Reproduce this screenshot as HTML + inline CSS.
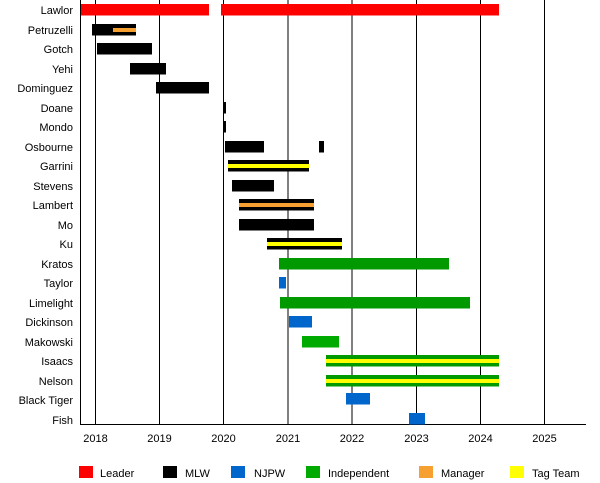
<!DOCTYPE html>
<html><head><style>body{margin:0;background:#fff}svg{display:block;font-family:"Liberation Sans",sans-serif;font-size:11px}</style></head><body>
<svg width="600" height="483" viewBox="0 0 600 483" xmlns="http://www.w3.org/2000/svg">
<g stroke="#000" stroke-width="1">
<line x1="95.5" y1="0" x2="95.5" y2="424"/><line x1="159.5" y1="0" x2="159.5" y2="424"/><line x1="223.5" y1="0" x2="223.5" y2="424"/><line x1="288" y1="0" x2="288" y2="424"/><line x1="352" y1="0" x2="352" y2="424"/><line x1="416.5" y1="0" x2="416.5" y2="424"/><line x1="480.5" y1="0" x2="480.5" y2="424"/><line x1="544.5" y1="0" x2="544.5" y2="424"/>
<line x1="80.5" y1="0" x2="80.5" y2="424"/><line x1="80" y1="424.5" x2="586" y2="424.5"/>
</g>
<g text-anchor="end">
<text x="73" y="14">Lawlor</text><text x="73" y="34">Petruzelli</text><text x="73" y="53">Gotch</text><text x="73" y="73">Yehi</text><text x="73" y="92">Dominguez</text><text x="73" y="112">Doane</text><text x="73" y="131">Mondo</text><text x="73" y="151">Osbourne</text><text x="73" y="170">Garrini</text><text x="73" y="190">Stevens</text><text x="73" y="209">Lambert</text><text x="73" y="229">Mo</text><text x="73" y="248">Ku</text><text x="73" y="268">Kratos</text><text x="73" y="287">Taylor</text><text x="73" y="307">Limelight</text><text x="73" y="326">Dickinson</text><text x="73" y="346">Makowski</text><text x="73" y="365">Isaacs</text><text x="73" y="385">Nelson</text><text x="73" y="404">Black Tiger</text><text x="73" y="424">Fish</text>
</g>
<g text-anchor="middle">
<text x="95.5" y="442">2018</text><text x="159.5" y="442">2019</text><text x="223.5" y="442">2020</text><text x="288" y="442">2021</text><text x="352" y="442">2022</text><text x="416.5" y="442">2023</text><text x="480.5" y="442">2024</text><text x="544.5" y="442">2025</text>
</g>
<g>
<rect x="81" y="4" width="128" height="11.5" fill="#f00"/><rect x="221" y="4" width="278" height="11.5" fill="#f00"/>
<rect x="92" y="24" width="44" height="11.5" fill="#000"/><rect x="113" y="28" width="23" height="4" fill="#f5a030"/>
<rect x="97" y="43" width="55" height="11.5" fill="#000"/>
<rect x="130" y="63" width="36" height="11.5" fill="#000"/>
<rect x="156" y="82" width="53" height="11.5" fill="#000"/>
<rect x="223" y="102" width="3" height="11.5" fill="#000"/>
<rect x="223" y="121" width="3" height="11.5" fill="#000"/>
<rect x="225" y="141" width="39" height="11.5" fill="#000"/><rect x="319" y="141" width="5" height="11.5" fill="#000"/>
<rect x="228" y="160" width="81" height="11.5" fill="#000"/><rect x="228" y="164" width="81" height="4" fill="#ff0"/>
<rect x="232" y="180" width="42" height="11.5" fill="#000"/>
<rect x="239" y="199" width="75" height="11.5" fill="#000"/><rect x="239" y="203" width="75" height="4" fill="#f5a030"/>
<rect x="239" y="219" width="75" height="11.5" fill="#000"/>
<rect x="267" y="238" width="75" height="11.5" fill="#000"/><rect x="267" y="242" width="75" height="4" fill="#ff0"/>
<rect x="279" y="258" width="170" height="11.5" fill="#009900"/>
<rect x="279" y="277" width="7" height="11.5" fill="#0066cc"/>
<rect x="280" y="297" width="190" height="11.5" fill="#009900"/>
<rect x="289" y="316" width="23" height="11.5" fill="#0066cc"/>
<rect x="302" y="336" width="37" height="11.5" fill="#00aa00"/>
<rect x="326" y="355" width="173" height="11.5" fill="#009900"/><rect x="326" y="359" width="173" height="4" fill="#ff0"/>
<rect x="326" y="375" width="173" height="11.5" fill="#009900"/><rect x="326" y="379" width="173" height="4" fill="#ff0"/>
<rect x="346" y="393" width="24" height="11.5" fill="#0066cc"/>
<rect x="409" y="413" width="16" height="11.5" fill="#0066cc"/>
</g>
<g>
<rect x="79" y="466" width="14" height="12" fill="#f00"/><text x="100" y="477">Leader</text>
<rect x="163" y="466" width="14" height="12" fill="#000"/><text x="185" y="477">MLW</text>
<rect x="231" y="466" width="14" height="12" fill="#0066cc"/><text x="254" y="477">NJPW</text>
<rect x="306" y="466" width="14" height="12" fill="#00aa00"/><text x="328" y="477">Independent</text>
<rect x="419" y="466" width="14" height="12" fill="#f5a030"/><text x="441" y="477">Manager</text>
<rect x="510" y="466" width="14" height="12" fill="#ff0"/><text x="532" y="477">Tag Team</text>
</g>
</svg>
</body></html>
